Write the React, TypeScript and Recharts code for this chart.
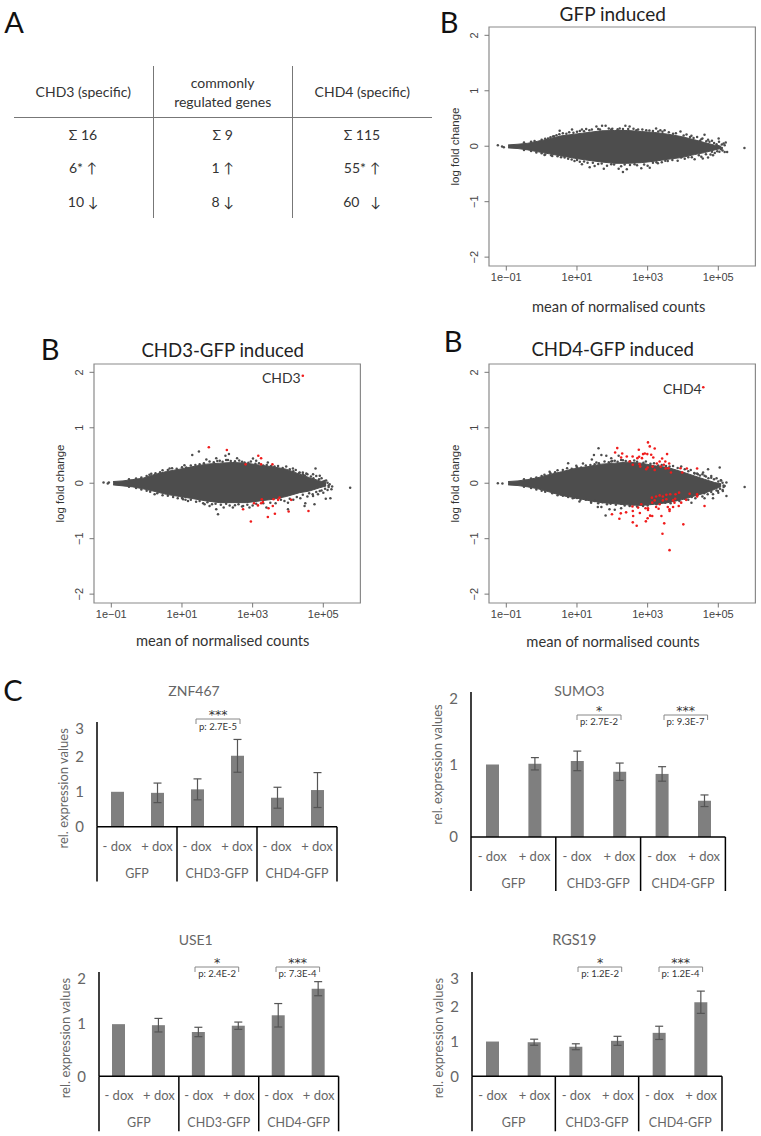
import {
  Area,
  Bar,
  BarChart,
  ComposedChart,
  ErrorBar,
  ReferenceArea,
  Scatter,
  XAxis,
  YAxis,
} from 'recharts';

const LATO = 'Lato, sans-serif';
const ARIAL = '"Liberation Sans", Arial, sans-serif';

// MA plots: x is log10 of the mean of normalised counts
const xTicks = [-1, 1, 3, 5];
const yTicks = [-2, -1, 0, 1, 2];

const envelopeLog = [-0.95, -0.67, -0.39, -0.105, 0.18, 0.556, 0.93, 1.31, 1.69, 2.07, 2.44, 2.82, 3.2, 3.575, 3.95, 4.33, 4.61, 4.9, 5.08];

const gfpUpper = [0.024, 0.036, 0.054, 0.09, 0.127, 0.187, 0.217, 0.247, 0.278, 0.284, 0.284, 0.265, 0.247, 0.217, 0.175, 0.115, 0.066, 0.018, 0.0];
const gfpLower = [-0.03, -0.042, -0.066, -0.1, -0.133, -0.175, -0.217, -0.253, -0.284, -0.308, -0.308, -0.296, -0.27, -0.235, -0.205, -0.15, -0.115, -0.066, -0.04];
const gfpEdge = [
  [0.51, 0.28], [0.6, 0.235], [0.86, 0.3], [1.14, 0.3], [1.26, 0.31], [1.55, 0.355], [1.71, 0.37], [1.81, 0.37], [1.97, 0.3],
  [2.21, 0.32], [2.37, 0.37], [2.49, 0.355], [2.73, 0.3], [2.96, 0.29], [3.24, 0.32], [3.36, 0.29], [3.48, 0.29], [3.93, 0.265],
  [4.61, 0.205], [5.01, 0.14], [5.21, 0.066], [5.18, 0.018], [4.71, 0.115], [4.52, 0.127], [4.24, 0.187], [0.18, 0.14], [0.32, 0.175],
  [-0.06, 0.08], [0.08, -0.157], [0.27, -0.163], [0.65, -0.205], [0.93, -0.265], [1.14, -0.326], [1.36, -0.38], [1.5, -0.356],
  [1.76, -0.404], [1.97, -0.326], [2.18, -0.404], [2.3, -0.465], [2.41, -0.416], [2.63, -0.326], [2.82, -0.398], [3.06, -0.386],
  [3.29, -0.308], [3.57, -0.265], [3.95, -0.205], [4.33, -0.235], [4.56, -0.223], [4.71, -0.205], [4.85, -0.163], [5.18, -0.103],
  [5.25, -0.103], [5.08, -0.054], [5.74, -0.03], [-1.24, 0.018], [-1.12, -0.006], [-1.07, -0.018],
];
const gfpRim = [
  [-0.5, 0.065], [-0.3, 0.08], [-0.2, 0.095], [0, 0.115], [0.1, 0.135], [0.25, 0.16], [0.35, 0.18], [0.42, 0.2], [0.5, 0.215], [0.7, 0.225],
  [0.78, 0.25], [0.9, 0.245], [1.0, 0.26], [1.08, 0.275], [1.2, 0.27], [1.35, 0.29], [1.42, 0.3], [1.6, 0.31], [1.65, 0.3], [1.9, 0.32],
  [2.0, 0.315], [2.15, 0.305], [2.3, 0.31], [2.45, 0.31], [2.6, 0.315], [2.68, 0.29], [2.85, 0.3], [3.05, 0.285], [3.15, 0.275], [3.3, 0.265],
  [3.42, 0.26], [3.6, 0.25], [3.72, 0.225], [3.8, 0.235], [4.02, 0.195], [4.1, 0.21], [4.2, 0.165], [4.3, 0.15], [4.4, 0.165], [4.48, 0.1],
  [4.55, 0.14], [4.66, 0.09], [4.75, 0.08], [4.82, 0.1], [4.88, 0.06], [4.95, 0.035], [5.02, 0.08], [5.1, 0.03], [5.15, 0.05], [5.0, 0.0],
  [4.95, -0.02], [5.1, -0.03], [-0.5, -0.07], [-0.3, -0.085], [-0.15, -0.115], [0, -0.125], [0.1, -0.15], [0.3, -0.175], [0.45, -0.18],
  [0.55, -0.2], [0.75, -0.225], [0.85, -0.24], [1.0, -0.25], [1.08, -0.28], [1.2, -0.275], [1.3, -0.3], [1.45, -0.3], [1.6, -0.32], [1.7, -0.31],
  [1.85, -0.35], [2.05, -0.33], [2.25, -0.36], [2.35, -0.33], [2.5, -0.34], [2.7, -0.345], [2.9, -0.33], [3.0, -0.35], [3.15, -0.3],
  [3.25, -0.29], [3.4, -0.29], [3.5, -0.26], [3.7, -0.25], [3.85, -0.26], [4.05, -0.225], [4.15, -0.2], [4.25, -0.2], [4.45, -0.165],
  [4.52, -0.19], [4.65, -0.145], [4.78, -0.15], [4.9, -0.12], [4.97, -0.09], [5.03, -0.1], [5.12, -0.075], [4.82, -0.1],
];

// the two CHD plots share the same fuzzy rim of genes
const chdRim = [
  [-0.5, 0.07], [-0.3, 0.085], [-0.15, 0.105], [0, 0.13], [0.08, 0.155], [0.25, 0.18], [0.38, 0.2], [0.45, 0.235], [0.6, 0.24], [0.72, 0.27],
  [0.85, 0.26], [1.0, 0.29], [1.12, 0.285], [1.25, 0.32], [1.38, 0.33], [1.5, 0.34], [1.62, 0.36], [1.78, 0.39], [1.9, 0.38], [2.0, 0.4],
  [2.15, 0.385], [2.25, 0.42], [2.38, 0.4], [2.5, 0.395], [2.62, 0.41], [2.7, 0.385], [2.88, 0.37], [2.95, 0.39], [3.08, 0.35], [3.18, 0.36],
  [3.3, 0.32], [3.4, 0.33], [3.52, 0.31], [3.62, 0.3], [3.72, 0.31], [3.85, 0.275], [3.95, 0.3], [4.05, 0.25], [4.15, 0.215], [4.22, 0.24],
  [4.32, 0.185], [4.42, 0.16], [4.48, 0.14], [4.55, 0.16], [4.65, 0.12], [4.72, 0.09], [4.8, 0.13], [4.88, 0.07], [4.95, 0.09], [5.0, 0.03],
  [5.08, 0.05], [5.12, 0.01], [5.0, -0.03], [5.15, -0.04], [-0.5, -0.065], [-0.3, -0.085], [-0.15, -0.115], [0, -0.135], [0.1, -0.155],
  [0.3, -0.18], [0.45, -0.215], [0.6, -0.225], [0.75, -0.25], [0.88, -0.27], [1.0, -0.265], [1.1, -0.3], [1.25, -0.3], [1.4, -0.335],
  [1.5, -0.32], [1.6, -0.36], [1.72, -0.345], [1.85, -0.38], [1.95, -0.37], [2.1, -0.39], [2.25, -0.37], [2.35, -0.4], [2.5, -0.395],
  [2.6, -0.38], [2.7, -0.42], [2.85, -0.39], [3.0, -0.4], [3.1, -0.37], [3.3, -0.36], [3.5, -0.35], [3.65, -0.36], [3.8, -0.3], [3.9, -0.32],
  [4.05, -0.28], [4.15, -0.3], [4.25, -0.25], [4.35, -0.27], [4.42, -0.21], [4.55, -0.24], [4.6, -0.18], [4.7, -0.2], [4.8, -0.16], [4.85, -0.2],
  [4.95, -0.13], [5.0, -0.17], [5.05, -0.1], [5.12, -0.12], [5.15, -0.07],
];

const chd3Upper = [0.03, 0.042, 0.066, 0.09, 0.15, 0.21, 0.253, 0.3, 0.344, 0.362, 0.374, 0.362, 0.326, 0.296, 0.253, 0.163, 0.1, 0.042, 0.012];
const chd3Lower = [-0.03, -0.048, -0.066, -0.1, -0.14, -0.2, -0.24, -0.278, -0.32, -0.35, -0.35, -0.35, -0.32, -0.29, -0.24, -0.17, -0.14, -0.08, -0.05];
const chd3Edge = [
  [1.29, 0.51], [1.48, 0.57], [1.69, 0.43], [1.97, 0.45], [2.33, 0.525], [2.23, 0.495], [2.3, 0.42], [2.56, 0.45], [2.77, 0.375],
  [3.01, 0.446], [3.1, 0.404], [3.43, 0.374], [2.07, 0.404], [1.07, 0.326], [0.65, 0.265], [0.13, 0.17], [4.78, 0.265], [4.9, 0.133],
  [4.52, 0.175], [4.42, 0.193], [4.33, 0.193], [4.14, 0.265], [4.71, 0.163], [5.04, 0.042], [5.18, -0.018], [5.25, -0.06],
  [1.03, -0.29], [1.17, -0.32], [1.64, -0.38], [1.78, -0.41], [1.97, -0.47], [2.02, -0.56], [2.18, -0.44], [2.44, -0.44],
  [2.73, -0.41], [2.91, -0.44], [3.39, -0.44], [4.0, -0.47], [4.0, -0.35], [4.49, -0.36], [4.47, -0.41], [4.75, -0.38],
  [5.07, -0.278], [5.2, -0.27], [4.71, -0.23], [4.9, -0.14], [5.23, -0.11], [0.225, -0.2], [5.76, -0.08], [-1.22, 0.012], [-1.1, -0.006], [-1.07, 0.012],
];
const chd3Red = [
  [4.42, 1.937], [1.76, 0.65], [2.27, 0.6], [3.16, 0.495], [3.24, 0.45], [3.56, 0.34], [2.8, 0.34], [3.24, 0.34], [3.26, -0.29],
  [3.29, -0.34], [3.24, -0.36], [3.15, -0.4], [3.04, -0.36], [2.73, -0.47], [3.59, -0.29], [3.76, -0.26], [3.72, -0.3], [4.09, -0.3],
  [3.45, -0.45], [3.57, -0.41], [3.43, -0.61], [3.63, -0.55], [4.02, -0.51], [4.58, -0.5], [2.95, -0.69],
];

const chd4Upper = [0.03, 0.042, 0.066, 0.1, 0.15, 0.205, 0.265, 0.3, 0.344, 0.362, 0.38, 0.362, 0.314, 0.284, 0.21, 0.13, 0.07, 0.012, -0.01];
const chd4Lower = [-0.03, -0.042, -0.066, -0.1, -0.15, -0.22, -0.26, -0.31, -0.35, -0.37, -0.39, -0.4, -0.38, -0.35, -0.3, -0.23, -0.18, -0.11, -0.06];
const chd4Edge = [
  [1.61, 0.63], [0.75, 0.36], [0.225, 0.205], [1.42, 0.43], [1.48, 0.51], [1.69, 0.51], [1.83, 0.495], [1.97, 0.45], [1.97, 0.39],
  [2.18, 0.495], [2.3, 0.416], [2.07, 0.404], [1.55, 0.374], [1.17, 0.356], [0.98, 0.314], [4.4, 0.175], [4.71, 0.253], [5.04, 0.284],
  [4.57, 0.193], [4.33, 0.175], [4.61, 0.133], [4.8, 0.1], [5.07, 0.054], [5.23, 0.012], [5.18, -0.05], [1.81, -0.58], [1.69, -0.43],
  [1.59, -0.43], [1.92, -0.47], [2.07, -0.48], [2.25, -0.45], [2.49, -0.41], [1.07, -0.33], [1.4, -0.35], [0.93, -0.26], [2.87, -0.41],
  [3.25, -0.38], [4.24, -0.35], [4.61, -0.27], [4.85, -0.27], [5.13, -0.14], [0.56, -0.2], [0.7, -0.22], [4.99, -0.14], [5.23, -0.23],
  [5.745, -0.07], [-1.24, 0.0], [-1.11, -0.006],
];
const chd4Red = [
  [4.575, 1.73], [3.01, 0.736], [3.06, 0.664], [3.2, 0.627], [2.14, 0.633], [2.08, 0.555], [2.28, 0.537], [2.75, 0.603], [2.87, 0.525],
  [2.92, 0.537], [2.99, 0.525], [3.1, 0.513], [3.16, 0.465], [3.55, 0.525], [2.25, 0.465], [2.41, 0.483], [2.575, 0.483], [2.71, 0.452],
  [2.76, 0.477], [2.84, 0.452], [2.49, 0.392], [2.58, 0.332], [2.77, 0.344], [2.79, 0.3], [2.96, 0.253], [3.0, 0.284], [3.14, 0.3],
  [3.2, 0.24], [3.26, 0.356], [3.34, 0.392], [3.41, 0.446], [3.5, 0.392], [3.61, 0.356], [3.37, 0.3], [3.46, 0.332], [3.51, 0.265],
  [3.59, 0.27], [3.66, 0.193], [3.93, 0.27], [3.98, 0.193], [4.11, 0.265], [4.4, 0.265],
  [3.62, -1.207], [3.42, -0.91], [4.01, -0.742], [3.47, -0.724], [2.69, -0.766], [2.58, -0.706], [2.95, -0.688], [3.0, -0.633],
  [3.07, -0.585], [3.13, -0.59], [3.39, -0.59], [2.2, -0.64], [1.99, -0.56], [2.24, -0.543], [2.39, -0.525], [2.59, -0.59],
  [2.78, -0.537], [2.57, -0.42], [2.58, -0.5], [2.73, -0.44], [2.94, -0.45], [3.01, -0.45], [3.01, -0.483], [3.24, -0.43],
  [3.31, -0.46], [3.57, -0.43], [3.62, -0.47], [3.62, -0.5], [3.72, -0.43], [3.88, -0.41], [4.61, -0.41], [3.13, -0.35],
  [3.2, -0.31], [3.12, -0.26], [3.24, -0.24], [3.34, -0.22], [3.43, -0.24], [3.53, -0.21], [3.64, -0.2], [3.79, -0.2], [3.89, -0.17],
  [4.19, -0.19], [4.4, -0.2], [4.4, -0.24], [4.09, -0.3], [3.78, -0.28], [3.72, -0.31], [3.53, -0.29], [3.43, -0.31], [3.76, -0.35],
  [3.95, -0.35], [3.34, -0.38], [2.82, -0.38],
];

// qPCR bars
const doses = ['- dox', '+ dox', '- dox', '+ dox', '- dox', '+ dox'];
const cellLines = ['GFP', 'CHD3-GFP', 'CHD4-GFP'];
const znf467Values = [1, 0.97, 1.07, 2.03, 0.83, 1.05];
const znf467Errors = [0, 0.28, 0.3, 0.47, 0.3, 0.5];
const sumo3Values = [1, 1.01, 1.05, 0.9, 0.87, 0.5];
const sumo3Errors = [0, 0.085, 0.135, 0.12, 0.1, 0.08];
const use1Values = [1, 0.98, 0.85, 0.97, 1.17, 1.68];
const use1Errors = [0, 0.13, 0.09, 0.07, 0.225, 0.135];
const rgs19Values = [1, 0.98, 0.85, 1.02, 1.25, 2.13];
const rgs19Errors = [0, 0.087, 0.085, 0.13, 0.19, 0.32];

function Txt({ x, y, size = 14, color = '#333', font = LATO, children }: any) {
  return (
    <div
      style={{
        position: 'absolute',
        left: x,
        top: y,
        transform: 'translate(-50%, -50%)',
        whiteSpace: 'pre',
        fontFamily: font,
        fontSize: size,
        color,
        lineHeight: 1,
      }}
    >
      {children}
    </div>
  );
}

const dot = (fill: string, r: number) => (props: any) =>
  <circle cx={props.cx} cy={props.cy} r={r} fill={fill} />;

const toPoints = (list: number[][]) => list.map(([x, y]) => ({ x, y }));

const formatExp = (v: number) => `1e${v < 0 ? '\u2212' : '+'}0${Math.abs(v)}`;

function RotatedTick({ x, y, payload }: any) {
  const label = String(payload.value).replace('-', '\u2212');
  return (
    <text x={x} y={y} transform={`rotate(-90 ${x} ${y})`} textAnchor="middle" fontFamily={ARIAL} fontSize={11} fill="#444">
      {label}
    </text>
  );
}

function MaPlot({ left, top, upper, lower, edge, rim, red }: any) {
  const rows = envelopeLog.map((x, i) => ({ x, band: [lower[i], upper[i]] }));
  return (
    <div style={{ position: 'absolute', left: left - 45, top: top - 2 }}>
      <ComposedChart width={315} height={275} data={rows} margin={{ top: 2, right: 3.6, bottom: 0, left: 0 }}>
        <XAxis
          type="number"
          dataKey="x"
          domain={[-1.49, 6.05]}
          ticks={xTicks}
          tickFormatter={formatExp}
          height={34}
          tickSize={4.5}
          tickMargin={3}
          axisLine={false}
          stroke="#777"
          tick={{ fontFamily: ARIAL, fontSize: 11, fill: '#444' }}
        />
        <YAxis
          type="number"
          dataKey="y"
          domain={[-2.16, 2.15]}
          ticks={yTicks}
          width={45}
          tickSize={4.5}
          tickMargin={6.5}
          axisLine={false}
          stroke="#777"
          tick={<RotatedTick />}
          label={{ value: 'log fold change', angle: -90, position: 'center', dx: -12, fontFamily: ARIAL, fontSize: 11.5, fill: '#333' }}
        />
        <ReferenceArea x1={-1.49} x2={6.05} y1={-2.16} y2={2.15} fill="none" stroke="#8a8a8a" strokeWidth={1.2} />
        <Area
          type="linear"
          dataKey="band"
          stroke="#4d4d4d"
          strokeWidth={1}
          fill="#4d4d4d"
          fillOpacity={1}
          dot={false}
          activeDot={false}
          isAnimationActive={false}
        />
        <Scatter data={toPoints(rim)} shape={dot('#4d4d4d', 1.25)} isAnimationActive={false} />
        <Scatter data={toPoints(edge)} shape={dot('#4d4d4d', 1.25)} isAnimationActive={false} />
        {red && <Scatter data={toPoints(red)} shape={dot('#f01c1c', 1.3)} isAnimationActive={false} />}
      </ComposedChart>
    </div>
  );
}

function TableTick({ x, y, payload, index, band, depth }: any) {
  const ink = '#000';
  return (
    <g>
      <text x={x} y={y + 24} textAnchor="middle" fontFamily={LATO} fontSize={13} fill="#666">
        {payload.value}
      </text>
      {index % 2 === 0 && <line x1={x - band / 2} x2={x - band / 2} y1={y} y2={y + depth} stroke={ink} strokeWidth={1.5} />}
      {index === 5 && <line x1={x + band / 2} x2={x + band / 2} y1={y} y2={y + depth} stroke={ink} strokeWidth={1.5} />}
      {index % 2 === 0 && (
        <text x={x + band / 2} y={y + 51} textAnchor="middle" fontFamily={LATO} fontSize={12.5} fill="#666">
          {cellLines[index / 2]}
        </text>
      )}
    </g>
  );
}

function ExprChart({ axisX, right, plotTop, zeroY, bottom, values, errors, max, labelDy = 0 }: any) {
  const rows = doses.map((dose, i) => ({ dose, value: values[i], err: errors[i] }));
  const band = (right - axisX) / 6;
  const depth = bottom - zeroY;
  const ticks = Array.from({ length: max + 1 }, (_, i) => i);
  return (
    <div style={{ position: 'absolute', left: axisX - 50, top: plotTop - 2 }}>
      <BarChart
        width={right - axisX + 52}
        height={bottom - plotTop + 4}
        data={rows}
        margin={{ top: 2, right: 2, bottom: 2, left: 0 }}
        barCategoryGap={0}
      >
        <XAxis
          dataKey="dose"
          interval={0}
          height={depth}
          tickSize={0}
          tickMargin={0}
          axisLine={{ stroke: '#000', strokeWidth: 1.5 }}
          tick={<TableTick band={band} depth={depth} />}
        />
        <YAxis
          type="number"
          domain={[0, max]}
          ticks={ticks}
          width={50}
          tickSize={0}
          tickMargin={13}
          axisLine={{ stroke: '#000', strokeWidth: 1.5 }}
          tick={{ fontFamily: LATO, fontSize: 15, fill: '#666' }}
          label={{ value: 'rel. expression values', angle: -90, position: 'center', dx: -9, dy: labelDy, fontFamily: LATO, fontSize: 13, fill: '#666' }}
        />
        <Bar dataKey="value" fill="#7f7f7f" barSize={13} isAnimationActive={false}>
          <ErrorBar dataKey="err" width={4} stroke="#555" strokeWidth={1.2} isAnimationActive={false} />
        </Bar>
      </BarChart>
    </div>
  );
}

function Sig({ x1, x2, y, stars, p }: any) {
  const cx = (x1 + x2) / 2;
  return (
    <>
      <svg style={{ position: 'absolute', left: x1 - 1, top: y - 1, overflow: 'visible' }} width={x2 - x1 + 2} height={8}>
        <path d={`M1 6V1H${x2 - x1 + 1}V6`} fill="none" stroke="#888" strokeWidth={1} />
      </svg>
      <Txt x={cx} y={y - 4} size={12.5} color="#333" font='"DejaVu Sans", sans-serif'>{stars}</Txt>
      <Txt x={cx} y={y + 7.2} size={9.5} color="#333">{p}</Txt>
    </>
  );
}

const tableRows = [
  { y: 134.7, cells: ['\u03A3 16', '\u03A3 9', '\u03A3 115'] },
  { y: 168.3, cells: ['6* \u2191', '1 \u2191', '55* \u2191'] },
  { y: 202.3, cells: ['10 \u2193', '8 \u2193', '60   \u2193'] },
];
const tableCentres = [83, 222.7, 362];

export default function App() {
  return (
    <div style={{ position: 'absolute', left: 0, top: 0, width: 761, height: 1136, overflow: 'hidden', background: '#fff' }}>
      {/* A */}
      <Txt x={14} y={21} size={29} color="#111">A</Txt>
      <div style={{ position: 'absolute', left: 153, top: 66, width: 1, height: 152, background: '#777' }} />
      <div style={{ position: 'absolute', left: 292, top: 66, width: 1, height: 152, background: '#777' }} />
      <div style={{ position: 'absolute', left: 14, top: 117, width: 418, height: 1, background: '#777' }} />
      <Txt x={83.3} y={92}>CHD3 (specific)</Txt>
      <Txt x={222.7} y={83}>commonly</Txt>
      <Txt x={222.7} y={102}>regulated genes</Txt>
      <Txt x={362.3} y={92}>CHD4 (specific)</Txt>
      {tableRows.map((row) =>
        row.cells.map((cell, i) => (
          <Txt key={cell} x={tableCentres[i]} y={row.y}>{cell}</Txt>
        )),
      )}

      {/* B */}
      <Txt x={449} y={21} size={29} color="#111">B</Txt>
      <Txt x={612.7} y={13} size={19} color="#222">GFP induced</Txt>
      <MaPlot left={489.3} top={26.7} upper={gfpUpper} lower={gfpLower} edge={gfpEdge} rim={gfpRim} />
      <Txt x={618.7} y={306} size={14.7}>mean of normalised counts</Txt>

      <Txt x={50} y={348} size={29} color="#111">B</Txt>
      <Txt x={222.7} y={350} size={18.6} color="#222">CHD3-GFP induced</Txt>
      <MaPlot left={94.3} top={364.3} upper={chd3Upper} lower={chd3Lower} edge={chd3Edge} rim={chdRim} red={chd3Red} />
      <Txt x={281.3} y={378}>CHD3</Txt>
      <Txt x={222.7} y={640} size={14.7}>mean of normalised counts</Txt>

      <Txt x={453} y={340} size={29} color="#111">B</Txt>
      <Txt x={612.7} y={348.5} size={18.6} color="#222">CHD4-GFP induced</Txt>
      <MaPlot left={489.3} top={364.3} upper={chd4Upper} lower={chd4Lower} edge={chd4Edge} rim={chdRim} red={chd4Red} />
      <Txt x={682.3} y={389}>CHD4</Txt>
      <Txt x={613} y={640.7} size={14.7}>mean of normalised counts</Txt>

      {/* C */}
      <Txt x={13} y={689} size={29} color="#111">C</Txt>
      <Txt x={194} y={691} size={14} color="#666">ZNF467</Txt>
      <ExprChart axisX={97} right={337} plotTop={722.3} zeroY={827} bottom={881.7} values={znf467Values} errors={znf467Errors} max={3} labelDy={14} />
      <Sig x1={196} x2={240} y={719.3} stars="***" p="p: 2.7E-5" />

      <Txt x={579.3} y={691} size={14} color="#666">SUMO3</Txt>
      <ExprChart axisX={471.3} right={725.7} plotTop={691.7} zeroY={836.7} bottom={890.7} values={sumo3Values} errors={sumo3Errors} max={2} />
      <Sig x1={577} x2={621} y={715} stars="*" p="p: 2.7E-2" />
      <Sig x1={663.7} x2={707.3} y={715} stars="***" p="p: 9.3E-7" />

      <Txt x={195.7} y={939.7} size={14} color="#666">USE1</Txt>
      <ExprChart axisX={98.7} right={338.3} plotTop={971.7} zeroY={1076} bottom={1131} values={use1Values} errors={use1Errors} max={2} labelDy={14} />
      <Sig x1={195.3} x2={239} y={967} stars="*" p="p: 2.4E-2" />
      <Sig x1={275.7} x2={319.3} y={967} stars="***" p="p: 7.3E-4" />

      <Txt x={574.3} y={939.7} size={14.5} color="#666">RGS19</Txt>
      <ExprChart axisX={472} right={722} plotTop={971.7} zeroY={1076} bottom={1131} values={rgs19Values} errors={rgs19Errors} max={3} labelDy={14} />
      <Sig x1={578.3} x2={622} y={966.7} stars="*" p="p: 1.2E-2" />
      <Sig x1={658.7} x2={702.3} y={966.7} stars="***" p="p: 1.2E-4" />
    </div>
  );
}
